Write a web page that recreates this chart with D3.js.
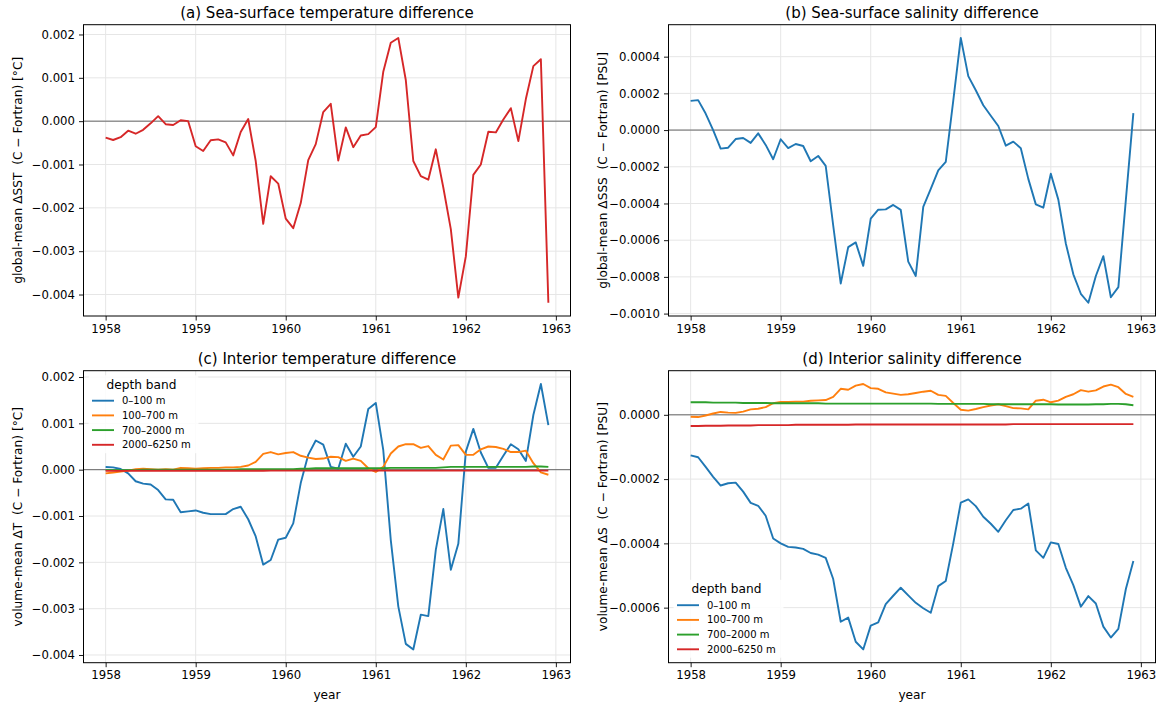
<!DOCTYPE html>
<html>
<head>
<meta charset="utf-8">
<script src="https://cdn.jsdelivr.net/npm/d3@7"></script>
<style>
  body { margin: 0; background: #fff; }
  svg { display: block; font-family: "DejaVu Sans", sans-serif; }
  text.ylab { white-space: pre; }
</style>
</head>
<body>
<div id="chart-area"></div>
<script>
const WIDTH = 1164
const HEIGHT = 702
const N_MONTHS = 60
const FIRST_YEAR = 1958

// monthly time axis, Jan 1958 .. Dec 1962
var months = d3.range(N_MONTHS).map(function(i){ return FIRST_YEAR + i / 12 })

var yearTicks = [1958, 1959, 1960, 1961, 1962, 1963]

// (a) global-mean SST difference [degC]
var sstDiff = [
  -0.00038, -0.000435, -0.00037, -0.00022, -0.00029, -0.0002, -0.00005, 0.000115, -0.00007, -0.00009, 0.00002, 0.0,
  -0.00058, -0.00069, -0.00044, -0.00042, -0.00049, -0.00079, -0.00025, 0.00005, -0.00092, -0.00237, -0.00127, -0.00144,
  -0.00225, -0.00247, -0.00189, -0.0009, -0.00053, 0.00021, 0.0004, -0.00091, -0.000145, -0.0006, -0.00033, -0.0003,
  -0.000137, 0.00114, 0.00181, 0.00192, 0.00095, -0.00092, -0.00127, -0.00135, -0.00065, -0.00153, -0.00249, -0.00407,
  -0.00312, -0.00124, -0.001, -0.000245, -0.00026, 0.00004, 0.0003, -0.00046, 0.00051, 0.00127, 0.00143, -0.00419
]

// (b) global-mean SSS difference [PSU]
var sssDiff = [
  0.000159, 0.000163, 0.00009, 0.0, -0.000101, -0.000096, -0.000049, -0.000043, -0.00007, -0.000018, -0.000081, -0.000159,
  -0.00005, -0.000098, -0.000076, -0.000087, -0.00017, -0.000141, -0.000195, -0.00052, -0.000836, -0.000638, -0.000612, -0.00074,
  -0.000482, -0.000434, -0.000432, -0.000408, -0.000435, -0.000717, -0.000795, -0.000419, -0.00032, -0.00022, -0.000173, 0.00016,
  0.000502, 0.000294, 0.000217, 0.000135, 0.000078, 0.000022, -0.000085, -0.000063, -0.000099, -0.000266, -0.000405, -0.000423,
  -0.000238, -0.000379, -0.000618, -0.000786, -0.000892, -0.000941, -0.000795, -0.000687, -0.000911, -0.000856, -0.00038, 0.000092
]

var depthBands = ["0\u2013100 m", "100\u2013700 m", "700\u20132000 m", "2000\u20136250 m"]
var bandColours = ["#1f77b4", "#ff7f0e", "#2ca02c", "#d62728"]

// (c) volume-mean temperature difference per depth band [degC]
var temp0to100 = [
  0.000057, 0.00005, 0.000014, -0.00008, -0.00025, -0.0003, -0.00032, -0.00044, -0.00064, -0.00065, -0.00092, -0.0009,
  -0.00088, -0.00093, -0.00096, -0.00096, -0.00096, -0.00085, -0.0008, -0.00107, -0.00144, -0.00205, -0.00195, -0.00151,
  -0.00147, -0.00116, -0.00029, 0.00032, 0.00063, 0.00054, 0.00006, 0.00002, 0.00056, 0.00028, 0.0005, 0.00131,
  0.00144, 0.00042, -0.00152, -0.00295, -0.00376, -0.00388, -0.00313, -0.00316, -0.00173, -0.00085, -0.00216, -0.0016,
  0.00039, 0.00088, 0.00037, 0.00004, 0.00004, 0.0003, 0.00055, 0.00044, 0.00019, 0.00118, 0.00185, 0.00096
]
var temp100to700 = [
  -0.00008, -0.00006, -0.00004, -0.00002, 0.00001, 0.00002, 0.00001, 0.0, 0.00001, 0.0, 0.00004, 0.00003,
  0.00002, 0.00003, 0.00004, 0.00004, 0.00005, 0.00005, 0.00006, 0.00009, 0.00017, 0.00034, 0.00038, 0.00033,
  0.00036, 0.00038, 0.0003, 0.00026, 0.00023, 0.00024, 0.00028, 0.00027, 0.00019, 0.00024, 0.00019, 0.00003,
  -0.00005, 0.00006, 0.00035, 0.0005, 0.00055, 0.00055, 0.00047, 0.00051, 0.00032, 0.00022, 0.00052, 0.00053,
  0.00032, 0.00032, 0.00044, 0.0005, 0.00049, 0.00045, 0.00038, 0.00038, 0.00041, 0.00014, -0.00006, -0.00011
]
var temp700to2000 = [
  -0.00001, -0.00001, -0.00001, -0.00001, -0.00001, 0.0, 0.0, 0.0, 0.0, 0.0, 0.0, 0.0,
  0.0, 0.0, 0.0, 0.0, 0.0, 0.0, 0.00001, 0.00001, 0.00001, 0.00001, 0.00001, 0.00001,
  0.00001, 0.00001, 0.00002, 0.00002, 0.00003, 0.00003, 0.00003, 0.00003, 0.00003, 0.00003, 0.00003, 0.00003,
  0.00003, 0.00003, 0.00004, 0.00004, 0.00004, 0.00004, 0.00004, 0.00004, 0.00004, 0.00005, 0.00006, 0.00006,
  0.00006, 0.00006, 0.00006, 0.00006, 0.00006, 0.00006, 0.00006, 0.00006, 0.00006, 0.00007, 0.00007, 0.00006
]
var temp2000to6250 = [
  -0.000025, -0.000025, -0.000025, -0.000025, -0.000024, -0.000024, -0.000024, -0.000024, -0.000024, -0.000023, -0.000023, -0.000023,
  -0.000023, -0.000023, -0.000023, -0.000022, -0.000022, -0.000022, -0.000022, -0.000022, -0.000022, -0.000022, -0.000021, -0.000021,
  -0.000021, -0.000021, -0.000021, -0.000021, -0.000021, -0.000021, -0.000021, -0.00002, -0.00002, -0.00002, -0.00002, -0.00002,
  -0.00002, -0.00002, -0.00002, -0.00002, -0.00002, -0.00002, -0.00002, -0.00002, -0.00002, -0.00002, -0.00002, -0.00002,
  -0.00002, -0.00002, -0.00002, -0.00002, -0.00002, -0.00002, -0.00002, -0.00002, -0.00002, -0.00002, -0.00002, -0.00002
]

// (d) volume-mean salinity difference per depth band [PSU]
var sal0to100 = [
  -0.000126, -0.000132, -0.000162, -0.000193, -0.00022, -0.000213, -0.000211, -0.000239, -0.000274, -0.000283, -0.000314, -0.000385,
  -0.0004, -0.000411, -0.000413, -0.000417, -0.00043, -0.000435, -0.000445, -0.000511, -0.000644, -0.000631, -0.000706, -0.00073,
  -0.000656, -0.000646, -0.000589, -0.000563, -0.000538, -0.000562, -0.000585, -0.000602, -0.000616, -0.000533, -0.000517, -0.0004,
  -0.000273, -0.000263, -0.000284, -0.000317, -0.000339, -0.000364, -0.000328, -0.000296, -0.000292, -0.000276, -0.000422, -0.000445,
  -0.000397, -0.000402, -0.000476, -0.00053, -0.000597, -0.000564, -0.000587, -0.000659, -0.000693, -0.000666, -0.000542, -0.000455
]
var sal100to700 = [
  -0.000006, -0.000007, -0.000002, 0.000004, 0.000009, 0.000007, 0.000006, 0.00001, 0.000017, 0.000019, 0.000024, 0.000036,
  0.00004, 0.00004, 0.000041, 0.000041, 0.000044, 0.000045, 0.000046, 0.000056, 0.000081, 0.000078, 0.000091, 0.000096,
  0.000083, 0.000081, 0.00007, 0.000066, 0.000062, 0.000064, 0.000068, 0.000072, 0.000075, 0.000062, 0.000059, 0.000037,
  0.000016, 0.000013, 0.000018, 0.000024, 0.000029, 0.000033, 0.000027, 0.000021, 0.00002, 0.000017, 0.000044, 0.000047,
  0.000039, 0.000044, 0.000056, 0.000064, 0.000077, 0.000072, 0.000076, 0.000088, 0.000094, 0.000086, 0.000065, 0.000056
]
var sal700to2000 = [
  0.000039, 0.000039, 0.000039, 0.000038, 0.000038, 0.000038, 0.000038, 0.000037, 0.000037, 0.000037, 0.000037, 0.000036,
  0.000036, 0.000036, 0.000036, 0.000036, 0.000036, 0.000036, 0.000035, 0.000035, 0.000035, 0.000035, 0.000035, 0.000035,
  0.000035, 0.000035, 0.000035, 0.000035, 0.000035, 0.000035, 0.000035, 0.000035, 0.000035, 0.000034, 0.000034, 0.000034,
  0.000034, 0.000034, 0.000034, 0.000034, 0.000033, 0.000033, 0.000033, 0.000033, 0.000033, 0.000033, 0.000033, 0.000033,
  0.000033, 0.000032, 0.000032, 0.000032, 0.000032, 0.000032, 0.000033, 0.000033, 0.000034, 0.000034, 0.000033, 0.00003
]
var sal2000to6250 = [
  -0.000035, -0.000035, -0.000034, -0.000034, -0.000034, -0.000033, -0.000033, -0.000033, -0.000033, -0.000032, -0.000032, -0.000032,
  -0.000032, -0.000032, -0.000031, -0.000031, -0.000031, -0.000031, -0.000031, -0.000031, -0.000031, -0.000031, -0.00003, -0.00003,
  -0.00003, -0.00003, -0.00003, -0.00003, -0.00003, -0.00003, -0.00003, -0.00003, -0.00003, -0.00003, -0.00003, -0.00003,
  -0.00003, -0.00003, -0.00003, -0.00003, -0.00003, -0.00003, -0.00003, -0.000029, -0.000029, -0.000029, -0.000029, -0.000029,
  -0.000029, -0.000029, -0.000029, -0.000029, -0.000029, -0.000029, -0.000029, -0.000029, -0.000029, -0.000029, -0.000029, -0.000029
]

var ticksSST = [-0.004, -0.003, -0.002, -0.001, 0, 0.001, 0.002]
var ticksSSS = [-0.001, -0.0008, -0.0006, -0.0004, -0.0002, 0, 0.0002, 0.0004]
var ticksTemp = [-0.004, -0.003, -0.002, -0.001, 0, 0.001, 0.002]
var ticksSal = [-0.0006, -0.0004, -0.0002, 0]

var svg = d3.select("#chart-area").append("svg")
    .attr("width", WIDTH)
    .attr("height", HEIGHT)

// matplotlib-style minus sign
function fmt(decimals){
    var f = d3.format("." + decimals + "f")
    return function(d){ return f(d).replace("-", "\u2212") }
}

function drawPanel(cfg){
    var box = cfg.box
    var allValues = d3.merge(cfg.series.map(function(s){ return s.values }))
    var yMin = d3.min(allValues), yMax = d3.max(allValues)
    var yPad = (yMax - yMin) * 0.05
    var xPad = (months[N_MONTHS - 1] - months[0]) * 0.05

    var xScale = d3.scaleLinear()
        .domain([months[0] - xPad, months[N_MONTHS - 1] + xPad])
        .range([box.left, box.right])
    var yScale = d3.scaleLinear()
        .domain([yMin - yPad, yMax + yPad])
        .range([box.bottom, box.top])

    var g = svg.append("g")

    // grid
    g.append("g").selectAll("line.vgrid").data(yearTicks).enter()
        .append("line")
        .attr("x1", function(d){ return xScale(d) })
        .attr("x2", function(d){ return xScale(d) })
        .attr("y1", box.top).attr("y2", box.bottom)
        .attr("stroke", "#e6e6e6").attr("stroke-width", 1)
    g.append("g").selectAll("line.hgrid").data(cfg.yTicks).enter()
        .append("line")
        .attr("x1", box.left).attr("x2", box.right)
        .attr("y1", function(d){ return yScale(d) })
        .attr("y2", function(d){ return yScale(d) })
        .attr("stroke", "#e6e6e6").attr("stroke-width", 1)

    // zero reference
    g.append("line")
        .attr("x1", box.left).attr("x2", box.right)
        .attr("y1", yScale(0)).attr("y2", yScale(0))
        .attr("stroke", "#666").attr("stroke-width", 1)

    var line = d3.line()
        .x(function(d, i){ return xScale(months[i]) })
        .y(function(d){ return yScale(d) })

    cfg.series.forEach(function(s){
        g.append("path")
            .datum(s.values)
            .attr("fill", "none")
            .attr("stroke", s.colour)
            .attr("stroke-width", 1.9)
            .attr("stroke-linejoin", "round")
            .attr("d", line)
    })

    // axes
    var xAxisCall = d3.axisBottom(xScale)
        .tickValues(yearTicks)
        .tickFormat(d3.format("d"))
        .tickSize(4.5).tickPadding(4)
    var yAxisCall = d3.axisLeft(yScale)
        .tickValues(cfg.yTicks)
        .tickFormat(fmt(cfg.decimals))
        .tickSize(4.5).tickPadding(4)

    var xAxisGroup = g.append("g")
        .attr("transform", "translate(0," + box.bottom + ")")
        .call(xAxisCall)
    var yAxisGroup = g.append("g")
        .attr("transform", "translate(" + box.left + ",0)")
        .call(yAxisCall)
    ;[xAxisGroup, yAxisGroup].forEach(function(ax){
        ax.select(".domain").remove()
        ax.selectAll("text")
            .attr("font-family", "DejaVu Sans")
            .attr("font-size", "11.7px")
            .attr("fill", "#000")
        ax.selectAll("line").attr("stroke", "#000").attr("stroke-width", 0.9)
    })

    // frame
    g.append("rect")
        .attr("x", box.left).attr("y", box.top)
        .attr("width", box.right - box.left)
        .attr("height", box.bottom - box.top)
        .attr("fill", "none")
        .attr("stroke", "#000")
        .attr("stroke-width", 1)

    // title
    g.append("text")
        .attr("x", (box.left + box.right) / 2)
        .attr("y", box.top - 7)
        .attr("text-anchor", "middle")
        .attr("font-size", "15px")
        .text(cfg.title)

    // y label
    g.append("text")
        .attr("class", "ylab")
        .attr("transform", "translate(" + (box.left - 65) + "," + ((box.top + box.bottom) / 2) + ") rotate(-90)")
        .attr("text-anchor", "middle")
        .attr("dominant-baseline", "middle")
        .attr("font-size", "12.2px")
        .text(cfg.yLabel)

    if (cfg.xLabel){
        g.append("text")
            .attr("x", (box.left + box.right) / 2)
            .attr("y", box.bottom + 36)
            .attr("text-anchor", "middle")
            .attr("font-size", "12.2px")
            .text(cfg.xLabel)
    }

    if (cfg.legend){
        var legW = 110, legH = 78
        var lx = box.left + 5
        var ly = cfg.legend === "top" ? box.top + 4.5 : box.bottom - 5 - legH
        var legend = g.append("g").attr("transform", "translate(" + lx + "," + ly + ")")
        legend.append("rect")
            .attr("width", legW).attr("height", legH)
            .attr("rx", 3)
            .attr("fill", "#fff").attr("fill-opacity", 0.85)
        legend.append("text")
            .attr("x", 53).attr("y", 13.5)
            .attr("text-anchor", "middle")
            .attr("font-size", "12.2px")
            .text("depth band")
        cfg.series.forEach(function(s, i){
            var row = legend.append("g")
                .attr("transform", "translate(0," + (25.5 + i * 14.7) + ")")
            row.append("line")
                .attr("x1", 3.5).attr("x2", 25.5)
                .attr("stroke", s.colour).attr("stroke-width", 1.9)
            row.append("text")
                .attr("x", 33.5).attr("y", 0)
                .attr("dominant-baseline", "central")
                .attr("font-size", "10px")
                .text(s.label)
        })
    }
}

var leftCol = {left: 83.5, right: 570.5}
var rightCol = {left: 668.5, right: 1155.5}
var topRow = {top: 24.7, bottom: 316}
var bottomRow = {top: 370.7, bottom: 662.7}

drawPanel({
    box: {left: leftCol.left, right: leftCol.right, top: topRow.top, bottom: topRow.bottom},
    series: [{values: sstDiff, colour: "#d62728"}],
    yTicks: ticksSST, decimals: 3,
    title: "(a) Sea-surface temperature difference",
    yLabel: "global-mean \u0394SST  (C \u2212 Fortran) [\u00b0C]"
})

drawPanel({
    box: {left: rightCol.left, right: rightCol.right, top: topRow.top, bottom: topRow.bottom},
    series: [{values: sssDiff, colour: "#1f77b4"}],
    yTicks: ticksSSS, decimals: 4,
    title: "(b) Sea-surface salinity difference",
    yLabel: "global-mean \u0394SSS  (C \u2212 Fortran) [PSU]"
})

var tempSeries = [temp0to100, temp100to700, temp700to2000, temp2000to6250]
drawPanel({
    box: {left: leftCol.left, right: leftCol.right, top: bottomRow.top, bottom: bottomRow.bottom},
    series: tempSeries.map(function(v, i){ return {values: v, colour: bandColours[i], label: depthBands[i]} }),
    yTicks: ticksTemp, decimals: 3,
    title: "(c) Interior temperature difference",
    yLabel: "volume-mean \u0394T  (C \u2212 Fortran) [\u00b0C]",
    xLabel: "year",
    legend: "top"
})

var salSeries = [sal0to100, sal100to700, sal700to2000, sal2000to6250]
drawPanel({
    box: {left: rightCol.left, right: rightCol.right, top: bottomRow.top, bottom: bottomRow.bottom},
    series: salSeries.map(function(v, i){ return {values: v, colour: bandColours[i], label: depthBands[i]} }),
    yTicks: ticksSal, decimals: 4,
    title: "(d) Interior salinity difference",
    yLabel: "volume-mean \u0394S  (C \u2212 Fortran) [PSU]",
    xLabel: "year",
    legend: "bottom"
})
</script>
</body>
</html>
